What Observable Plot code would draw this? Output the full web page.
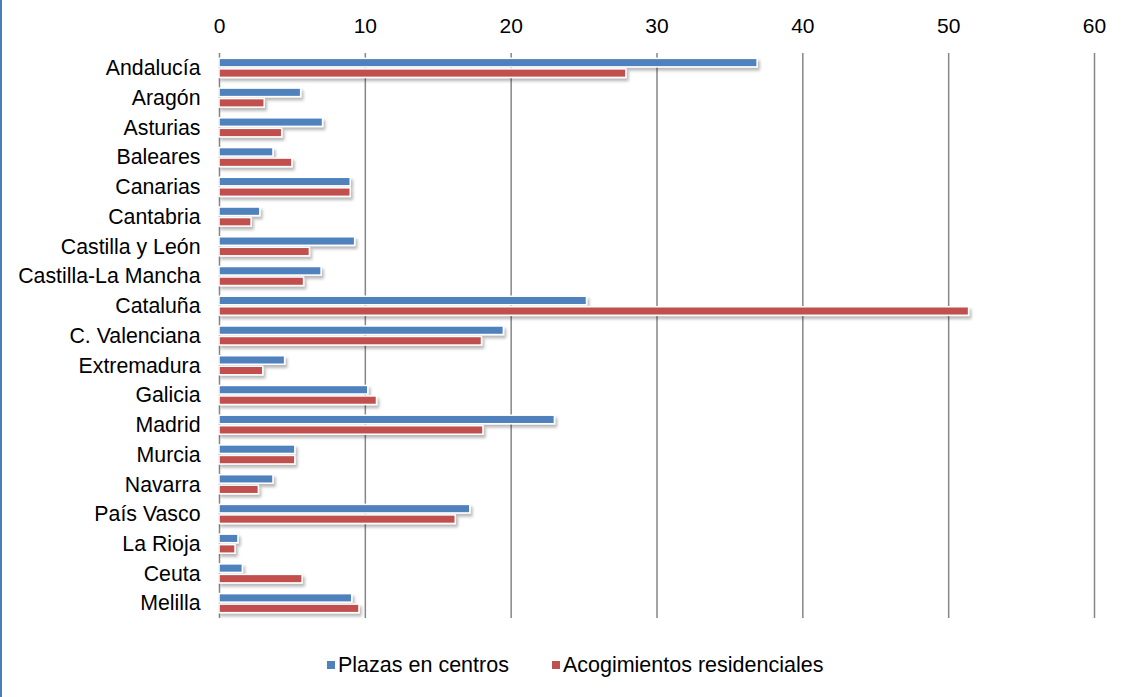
<!DOCTYPE html>
<html>
<head>
<meta charset="utf-8">
<script src="https://cdn.jsdelivr.net/npm/d3@7"></script>
<script src="https://cdn.jsdelivr.net/npm/@observablehq/plot@0.6"></script>
<style>
  html, body { margin: 0; padding: 0; background: #fff; }
  body { width: 1124px; height: 697px; position: relative; overflow: hidden; font-family: "Liberation Sans", Arial, sans-serif; }
  #frame { position: absolute; left: 0; top: 0; width: 2px; height: 697px; background: #4a7ebb; }
  #legend { position: absolute; top: 652px; left: 327px; display: flex; font-size: 21.5px; line-height: 26px; color: #000; white-space: nowrap; }
  .item { display: flex; align-items: center; }
  .item + .item { margin-left: 43px; }
  .sw { width: 8px; height: 8px; margin-right: 3px; display: inline-block; }
</style>
</head>
<body>
<div id="frame"></div>
<div id="chart"></div>
<div id="legend"></div>
<script>
const regions = ["Andalucía","Aragón","Asturias","Baleares","Canarias","Cantabria","Castilla y León","Castilla-La Mancha","Cataluña","C. Valenciana","Extremadura","Galicia","Madrid","Murcia","Navarra","País Vasco","La Rioja","Ceuta","Melilla"];
const plazas = [36.9, 5.6, 7.1, 3.7, 9.0, 2.8, 9.3, 7.0, 25.2, 19.5, 4.5, 10.2, 23.0, 5.2, 3.7, 17.2, 1.3, 1.6, 9.1];
const acogimientos = [27.9, 3.1, 4.3, 5.0, 9.0, 2.2, 6.2, 5.8, 51.4, 18.0, 3.0, 10.8, 18.1, 5.2, 2.7, 16.2, 1.1, 5.7, 9.6];
const seriesNames = ["Plazas en centros", "Acogimientos residenciales"];
const seriesColors = ["#4f81bd", "#c0504d"];
const xTicks = [0, 10, 20, 30, 40, 50, 60];

const dataPlazas = regions.map((r, i) => ({region: r, value: plazas[i]}));
const dataAcog = regions.map((r, i) => ({region: r, value: acogimientos[i]}));

const chart = Plot.plot({
  width: 1124,
  height: 630,
  marginTop: 53,
  marginBottom: 12,
  marginLeft: 219,
  marginRight: 30,
  style: {fontFamily: "'Liberation Sans', Arial, sans-serif", fontSize: "21px", color: "#000", background: "#fff"},
  x: {domain: [0, 60], axis: null, label: null},
  y: {domain: regions, paddingInner: 0.36, paddingOuter: 0.18, round: false, axis: null, label: null},
  marks: [
    Plot.ruleX(xTicks, {stroke: "#868686", strokeWidth: 1.5}),
    Plot.barX(dataPlazas, {x: "value", y: "region", fill: seriesColors[0], stroke: "#fff", strokeWidth: 1.5, insetBottom: 10.5}),
    Plot.barX(dataAcog, {x: "value", y: "region", fill: seriesColors[1], stroke: "#fff", strokeWidth: 1.5, insetTop: 10.5}),
    Plot.axisX(xTicks, {anchor: "top", tickSize: 0, tickPadding: 20.5, tickFormat: d => String(d), fontSize: 21, label: null}),
    Plot.axisY({anchor: "left", tickSize: 0, tickPadding: 19, fontSize: 21.3, label: null})
  ]
});

// drop shadow on bars
const svg = d3.select(chart);
const defs = svg.insert("defs", ":first-child");
const f = defs.append("filter").attr("id", "shadow").attr("x", "-5%").attr("y", "-50%").attr("width", "110%").attr("height", "200%");
f.append("feDropShadow").attr("dx", 2).attr("dy", 3).attr("stdDeviation", 1.5).attr("flood-color", "#000").attr("flood-opacity", 0.28);
svg.selectAll("g[aria-label='bar']").attr("filter", "url(#shadow)");

document.getElementById("chart").appendChild(chart);

const legend = document.getElementById("legend");
seriesNames.forEach((name, i) => {
  const item = document.createElement("div");
  item.className = "item";
  const sw = document.createElement("span");
  sw.className = "sw";
  sw.style.background = seriesColors[i];
  item.appendChild(sw);
  item.appendChild(document.createTextNode(name));
  legend.appendChild(item);
});
</script>
</body>
</html>
